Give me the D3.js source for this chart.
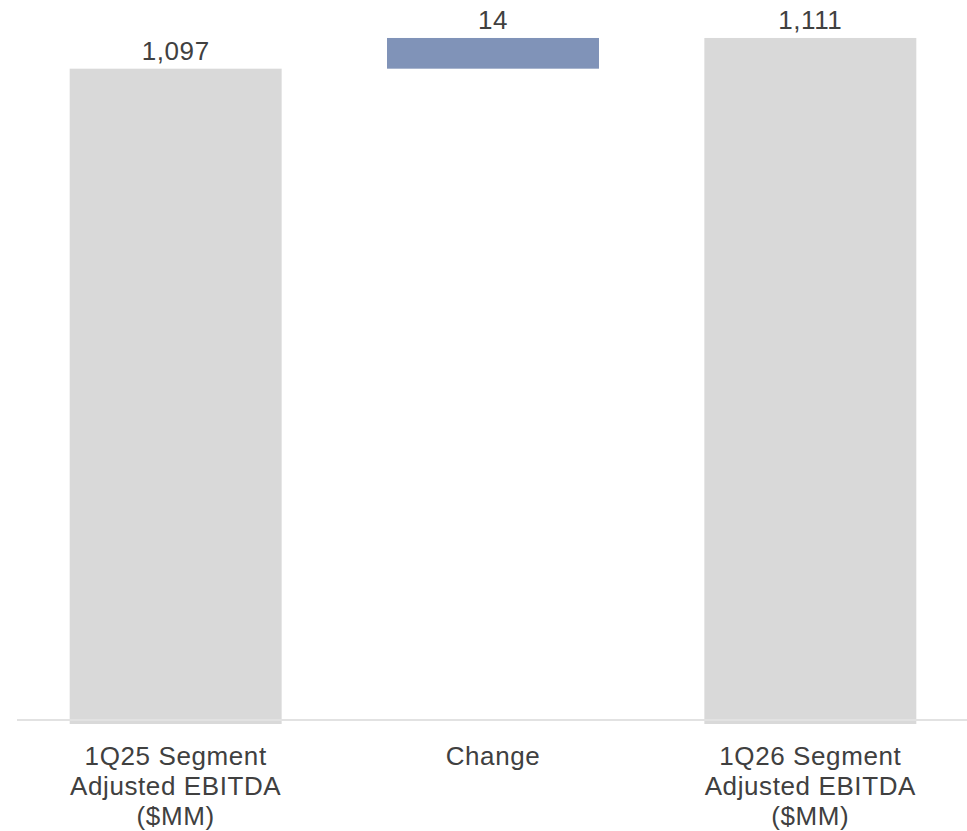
<!DOCTYPE html>
<html>
<head>
<meta charset="utf-8">
<script src="https://cdn.jsdelivr.net/npm/d3@7"></script>
<style>
  html, body { margin: 0; padding: 0; background: #ffffff; }
  svg { display: block; }
  text { font-family: "Liberation Sans", Arial, sans-serif; fill: #404040; }
</style>
</head>
<body>
<svg id="chart" width="967" height="831"></svg>
<script>
// Segment Adjusted EBITDA bridge, $MM
const categories = ["1Q25 Segment|Adjusted EBITDA|($MM)", "Change", "1Q26 Segment|Adjusted EBITDA|($MM)"];
const kinds = ["total", "delta", "total"];
const values = [1097, 14, 1111];
const valueLabels = ["1,097", "14", "1,111"];

const width = 967, height = 831;
const baseY = 720;
const svg = d3.select("#chart");

// Build the floating segments: totals start at the axis floor, deltas float on the running total
const axisFloor = 800;
let running = 0;
const bars = categories.map((c, i) => {
  let lo, hi;
  if (kinds[i] === "total") { lo = axisFloor; hi = values[i]; running = values[i]; }
  else { lo = running; hi = running + values[i]; running = hi; }
  return { key: c, kind: kinds[i], lo, hi, label: valueLabels[i] };
});

const x = d3.scaleBand()
  .domain(categories)
  .range([17, 969])
  .paddingInner(0.332)
  .paddingOuter(0.166);

const y = d3.scaleLinear()
  .domain([axisFloor, 1120])
  .range([baseY, baseY - 2.193 * (1120 - axisFloor)]);

const overhang = 4;

svg.append("g").selectAll("rect")
  .data(bars)
  .join("rect")
  .attr("x", d => x(d.key))
  .attr("width", x.bandwidth())
  .attr("y", d => y(d.hi))
  .attr("height", d => y(d.lo) - y(d.hi) + (d.kind === "total" ? overhang : 0))
  .attr("fill", d => d.kind === "total" ? "#d9d9d9" : "#8093b8");

// Baseline axis
svg.append("line")
  .attr("x1", 17).attr("x2", width)
  .attr("y1", baseY).attr("y2", baseY)
  .attr("stroke", "#e2e2e2")
  .attr("stroke-width", 2);

// Value labels above each bar
svg.append("g").selectAll("text")
  .data(bars)
  .join("text")
  .attr("x", d => x(d.key) + x.bandwidth() / 2)
  .attr("y", d => y(d.hi) - 9)
  .attr("text-anchor", "middle")
  .style("font-size", "26px")
  .style("letter-spacing", "0.6px")
  .text(d => d.label);

// Category labels, wrapped on "|"
const cat = svg.append("g").selectAll("text")
  .data(categories)
  .join("text")
  .attr("text-anchor", "middle")
  .style("font-size", "26px")
  .style("letter-spacing", "0.6px");

cat.each(function(c) {
  const t = d3.select(this);
  c.split("|").forEach((line, j) => {
    t.append("tspan")
      .attr("x", x(c) + x.bandwidth() / 2)
      .attr("y", baseY + 45 + j * 30)
      .text(line);
  });
});
</script>
</body>
</html>
